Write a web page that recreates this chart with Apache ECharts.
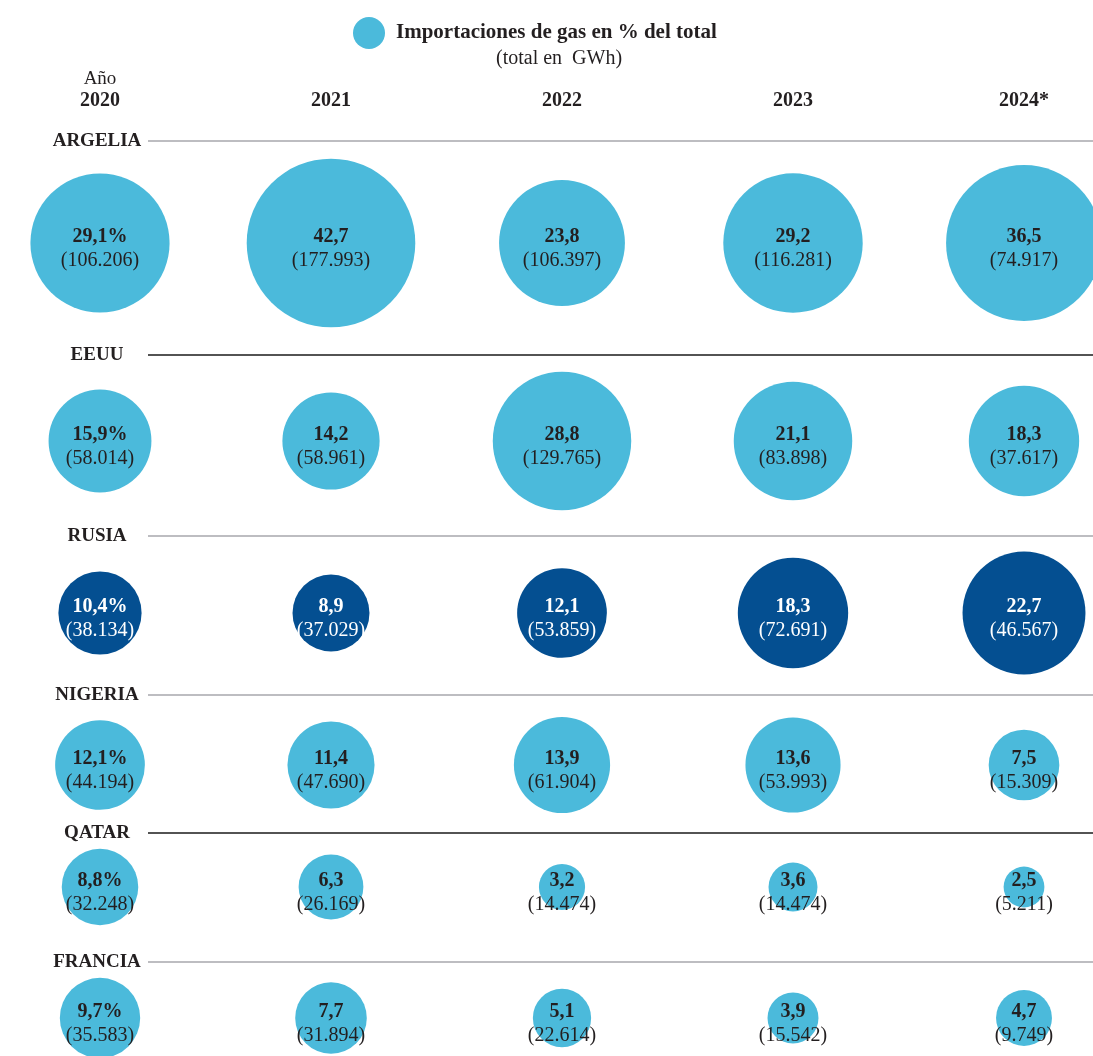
<!DOCTYPE html>
<html>
<head>
<meta charset="utf-8">
<script src="https://cdn.jsdelivr.net/npm/echarts@6/dist/echarts.min.js"></script>
<style>
  html, body { margin: 0; padding: 0; background: #fff; }
  #chart { width: 1093px; height: 1056px; }
</style>
</head>
<body>
<div id="chart"></div>
<script>
// datos
const years = ['2020', '2021', '2022', '2023', '2024*']
const countries = ['ARGELIA', 'EEUU', 'RUSIA', 'NIGERIA', 'QATAR', 'FRANCIA']
// % del total de importaciones de gas
const pctArgelia = [29.1, 42.7, 23.8, 29.2, 36.5]
const pctEeuu = [15.9, 14.2, 28.8, 21.1, 18.3]
const pctRusia = [10.4, 8.9, 12.1, 18.3, 22.7]
const pctNigeria = [12.1, 11.4, 13.9, 13.6, 7.5]
const pctQatar = [8.8, 6.3, 3.2, 3.6, 2.5]
const pctFrancia = [9.7, 7.7, 5.1, 3.9, 4.7]
// total en GWh
const gwhArgelia = [106206, 177993, 106397, 116281, 74917]
const gwhEeuu = [58014, 58961, 129765, 83898, 37617]
const gwhRusia = [38134, 37029, 53859, 72691, 46567]
const gwhNigeria = [44194, 47690, 61904, 53993, 15309]
const gwhQatar = [32248, 26169, 14474, 14474, 5211]
const gwhFrancia = [35583, 31894, 22614, 15542, 9749]

const pcts = [pctArgelia, pctEeuu, pctRusia, pctNigeria, pctQatar, pctFrancia]
const gwhs = [gwhArgelia, gwhEeuu, gwhRusia, gwhNigeria, gwhQatar, gwhFrancia]

// maquetacion
const rowCenter = [243, 441, 613, 765, 887, 1018]
const lineY = [141, 355, 536, 695, 833, 962]
const lineColor = ['#a7a7ad', '#1a1a1a', '#a7a7ad', '#a7a7ad', '#1a1a1a', '#a7a7ad']
const light = '#4bbadb'
const dark = '#044f91'
const ink = '#231f20'
const font = '"Liberation Serif", "DejaVu Serif", serif'
const K = 25.8 // diametro por raiz del %

const fmtPct = (v) => v.toFixed(1).replace('.', ',')
const fmtGwh = (n) => String(n).replace(/\B(?=(\d{3})+(?!\d))/g, '.')

const chart = echarts.init(document.getElementById('chart'))

const grids = []
const xAxes = []
const yAxes = []
const series = []
const graphics = []

countries.forEach((c, i) => {
  grids.push({ left: 100, right: 69, top: rowCenter[i] - 30, height: 60 })
  xAxes.push({
    type: 'category',
    gridIndex: i,
    data: years,
    boundaryGap: false,
    position: 'top',
    show: i === 0,
    offset: 101,
    axisLine: { show: false },
    axisTick: { show: false },
    splitLine: { show: false },
    axisLabel: {
      show: i === 0,
      margin: 0,
      interval: 0,
      fontFamily: font,
      formatter: (v, idx) => idx === 0 ? '{a|Año}\n{y|' + v + '}' : '{y|' + v + '}',
      rich: {
        a: { fontFamily: font, fontSize: 19, color: ink, lineHeight: 22 },
        y: { fontFamily: font, fontSize: 20, fontWeight: 'bold', color: ink, lineHeight: 22 }
      }
    }
  })
  yAxes.push({ type: 'category', gridIndex: i, data: [c], show: false })

  const isDark = c === 'RUSIA'
  const txt = isDark ? '#ffffff' : ink
  series.push({
    name: 'Importaciones de gas en % del total',
    type: 'scatter',
    xAxisIndex: i,
    yAxisIndex: i,
    clip: false,
    symbol: 'circle',
    symbolSize: (d) => K * Math.sqrt(d[2]),
    itemStyle: { color: isDark ? dark : light, opacity: 1 },
    emphasis: { disabled: true },
    data: pcts[i].map((v, j) => [years[j], c, v, gwhs[i][j]]),
    label: {
      show: true,
      position: 'inside',
      offset: [0, 6],
      formatter: (p) => '{b|' + fmtPct(p.data[2]) + (p.dataIndex === 0 ? '%' : '') + '}\n{n|(' + fmtGwh(p.data[3]) + ')}',
      rich: {
        b: { fontFamily: font, fontSize: 20, fontWeight: 'bold', color: txt, lineHeight: 24 },
        n: { fontFamily: font, fontSize: 20, color: txt, lineHeight: 24 }
      }
    }
  })

  graphics.push({
    type: 'text',
    x: 97,
    y: lineY[i],
    style: {
      text: c,
      fontFamily: font,
      fontSize: 19,
      fontWeight: 'bold',
      fill: ink,
      align: 'center',
      verticalAlign: 'middle'
    }
  })
  graphics.push({
    type: 'line',
    shape: { x1: 148, y1: lineY[i], x2: 1093, y2: lineY[i] },
    style: { stroke: lineColor[i], lineWidth: 1.5 }
  })
})

chart.setOption({
  backgroundColor: '#ffffff',
  animation: false,
  title: {
    text: '(total en  GWh)',
    left: 491,
    top: 44,
    textStyle: { fontFamily: font, fontSize: 20, fontWeight: 'normal', color: ink }
  },
  legend: {
    left: 348,
    top: 12,
    icon: 'circle',
    itemWidth: 32,
    itemHeight: 32,
    selectedMode: false,
    data: [{ name: 'Importaciones de gas en % del total', itemStyle: { color: light } }],
    textStyle: { fontFamily: font, fontSize: 21, fontWeight: 'bold', color: ink, padding: [0, 0, 0, 6] }
  },
  grid: grids,
  xAxis: xAxes,
  yAxis: yAxes,
  series: series,
  graphic: graphics
})
</script>
</body>
</html>
